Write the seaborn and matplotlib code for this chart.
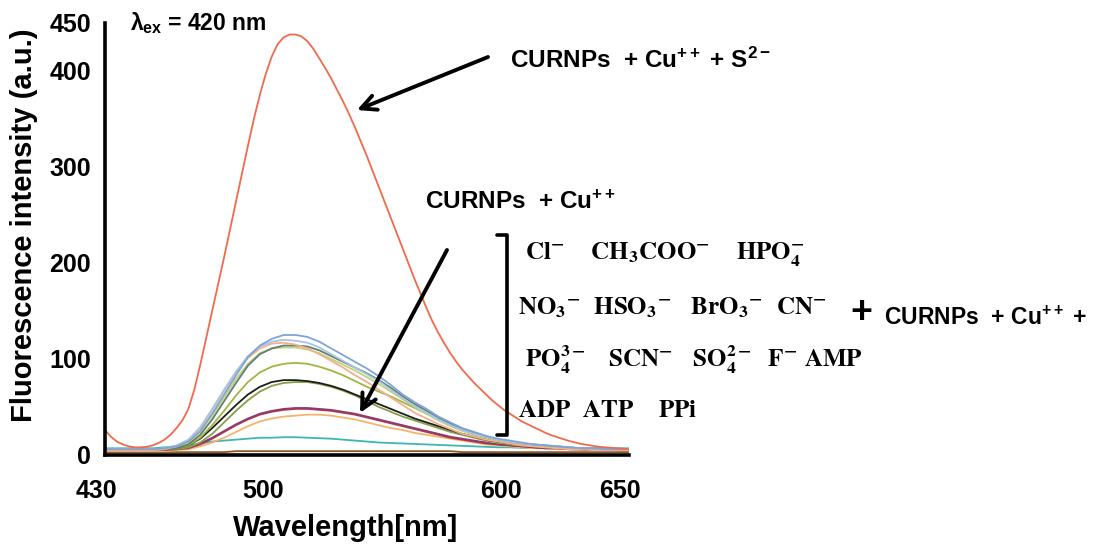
import matplotlib
matplotlib.use("Agg")
import matplotlib.pyplot as plt
import matplotlib.transforms as mtransforms
from matplotlib.lines import Line2D
import pandas as pd
import seaborn as sns

# ---------------- data ----------------
wavelengths = list(range(430, 651, 5))
red_wavelengths = [430 + 2.5 * i for i in range(89)]

s_red = [26, 19, 14, 11, 9, 8, 8, 8.5, 10, 12.5, 16, 21, 28, 36, 48, 68,
         94, 122, 150, 178, 206, 235, 264, 293, 322, 350, 375, 397, 415, 428, 435, 438,
         438, 436, 431, 423, 413, 403, 392, 380, 368, 355, 341, 326, 311, 295, 279, 263,
         247, 231, 215, 199, 183, 168, 153, 139, 127, 116, 106, 97, 89, 82, 75, 69,
         63, 57, 52, 47, 43, 39, 35, 32, 29, 26, 23, 20.5, 18.5, 16.5, 14.5, 13,
         11.5, 10.5, 9.5, 8.5, 8, 7.5, 7, 6.5, 6]
s_blue = [6, 6, 6, 6, 6, 7, 9, 14, 25, 43, 63, 83, 102, 114, 121, 125, 125, 123, 118, 111,
          104, 97, 90, 82, 73, 63, 55, 48, 40, 34, 28, 24, 20, 17, 15, 13, 11, 10, 9, 8, 7,
          7, 6, 6, 6]
s_paleblue = [6, 6, 6, 6, 6, 7, 10, 16, 29, 48, 68, 87, 103, 113, 118, 120, 119, 117, 112,
              105, 98, 91, 84, 77, 68, 59, 51, 44, 37, 31, 26, 22, 19, 16, 14, 12, 11, 10, 9,
              8, 7, 7, 6, 6, 6]
s_peach = [5, 5, 5, 5, 5, 6, 9, 15, 28, 47, 67, 86, 101, 111, 116, 117, 115, 111, 105, 98,
           91, 83, 76, 68, 60, 52, 44, 38, 32, 27, 22, 19, 16, 14, 12, 10, 9, 8, 7, 6, 6, 5,
           5, 5, 5]
s_graygreen = [6, 6, 6, 6, 6, 6, 7, 11, 21, 37, 56, 75, 93, 105, 111, 114, 114, 113, 109,
               103, 97, 91, 85, 78, 70, 61, 53, 46, 39, 33, 27, 23, 19, 16, 14, 12, 11, 10,
               9, 8, 7, 7, 6, 6, 6]
s_yellowgreen = [6, 6, 6, 6, 6, 6, 8, 13, 24, 41, 60, 79, 95, 106, 111, 112, 112, 110, 106,
                 100, 94, 88, 81, 74, 66, 58, 50, 43, 36, 30, 25, 21, 18, 15, 13, 11, 10, 9,
                 8, 7, 7, 6, 6, 6, 5]
s_olive = [6, 6, 6, 6, 6, 6, 7, 10, 18, 31, 46, 62, 76, 86, 92, 95, 96, 95, 92, 88, 83, 77,
           71, 66, 61, 55, 49, 43, 37, 32, 27, 23, 19, 16, 14, 12, 10, 9, 8, 7, 7, 6, 6, 6, 5]
s_black = [6, 6, 6, 6, 6, 6, 7, 10, 17, 28, 40, 52, 63, 71, 76, 78, 78, 77, 75, 72, 68, 63,
           58, 53, 48, 43, 38, 34, 30, 26, 22, 19, 16, 14, 12, 11, 10, 9, 8, 7, 7, 6, 6, 5, 5]
s_green = [6, 6, 6, 6, 6, 6, 6, 8, 13, 22, 34, 46, 57, 66, 72, 75, 76, 76, 74, 71, 67, 62,
           56, 50, 45, 40, 36, 32, 28, 24, 21, 18, 15, 13, 11, 10, 9, 8, 8, 7, 7, 6, 6, 5, 5]
s_maroon = [6, 6, 6, 6, 6, 6, 6, 8, 12, 18, 25, 32, 38, 43, 46, 48, 49, 49, 48, 47, 45, 43,
            40, 37, 34, 31, 28, 25, 22, 19, 17, 15, 13, 11, 10, 9, 8, 7, 7, 6, 6, 5, 5, 5, 5]
s_darkred = [5, 5, 5, 5, 5, 5, 6, 7, 11, 17, 24, 31, 37, 42, 45, 47, 48, 48, 47, 46, 44, 42,
             39, 36, 33, 30, 27, 24, 21, 18, 16, 14, 12, 11, 10, 9, 8, 7, 7, 6, 6, 5, 5, 5, 5]
s_lightorange = [4, 4, 4, 4, 4, 4, 5, 6, 9, 13, 18, 24, 30, 35, 38, 40, 41, 42, 42, 41, 39,
                 37, 34, 31, 28, 26, 23, 21, 19, 17, 15, 13, 11, 10, 9, 8, 7, 7, 6, 6, 5, 5,
                 5, 5, 5]
s_teal = [7, 7, 7, 7, 7, 8, 9, 10, 12, 14, 15, 16, 17, 18, 18, 18.5, 18.5, 18, 17.5, 17, 16,
          15, 14, 13, 12.5, 12, 11.5, 11, 10.5, 10, 9.5, 9, 8.5, 8, 8, 7.5, 7.5, 7, 7, 7, 7,
          7, 7, 7, 7]
s_base = [3] * 11 + [4] * 19 + [3] * 15

series = {
    "base": s_base, "teal": s_teal, "lightorange": s_lightorange, "darkred": s_darkred,
    "maroon": s_maroon, "green": s_green, "black": s_black, "olive": s_olive,
    "yellowgreen": s_yellowgreen, "graygreen": s_graygreen, "peach": s_peach,
    "paleblue": s_paleblue, "blue": s_blue, "red": s_red,
}
colors = {
    "base": "#8B5A2B", "teal": "#3CB7B0", "lightorange": "#F5B36E", "darkred": "#B23A48",
    "maroon": "#8C3B70", "green": "#86A048", "black": "#1E1E1E", "olive": "#A3B443",
    "yellowgreen": "#C2D27A", "graygreen": "#5E8070", "peach": "#F4B08A",
    "paleblue": "#A9C4E4", "blue": "#7FA5D6", "red": "#F06A4C",
}

# ---------------- style ----------------
sns.set_theme(style="white")
plt.rcParams['font.family'] = ['Liberation Sans', 'DejaVu Sans']
plt.rcParams['font.weight'] = 'bold'
plt.rcParams['text.color'] = 'black'
plt.rcParams['axes.labelcolor'] = 'black'
plt.rcParams['xtick.color'] = 'black'
plt.rcParams['ytick.color'] = 'black'
plt.rcParams['mathtext.fontset'] = 'custom'
plt.rcParams['mathtext.rm'] = 'Liberation Sans:bold'
plt.rcParams['mathtext.it'] = 'Liberation Sans:bold'
plt.rcParams['mathtext.bf'] = 'Liberation Sans:bold'

W, H = 1093, 546
fig = plt.figure(figsize=(W / 100, H / 100), dpi=100)
ax = fig.add_axes([105 / W, 91 / H, 524 / W, 432 / H])

rows = []
for name, vals in series.items():
    xs = red_wavelengths if name == "red" else wavelengths
    for wl, v in zip(xs, vals):
        rows.append({"wl": wl, "I": v, "sample": name})
df = pd.DataFrame(rows)

sns.lineplot(data=df, x="wl", y="I", hue="sample", hue_order=list(series.keys()),
             palette=colors, legend=False, lw=1.3, ax=ax, estimator=None)

ax.set_xlim(430, 650)
ax.set_ylim(0, 450)
ax.set_xlabel("")
ax.set_ylabel("")
for sp in ["top", "right"]:
    ax.spines[sp].set_visible(False)
for sp in ["left", "bottom"]:
    ax.spines[sp].set_linewidth(2.6)
    ax.spines[sp].set_color("black")

ax.set_xticks([430, 500, 600, 650])
ax.set_xticklabels(["430", "500", "600", "650"])
ax.set_xticks([450, 550], minor=True)
ax.set_yticks([0, 100, 200, 300, 400, 450])
ax.set_yticklabels(["0", "100", "200", "300", "400", "450"])
ax.set_yticks([50, 150, 250, 350], minor=True)

ax.tick_params(axis="both", which="both", direction="in", color="black", width=2,
               labelcolor="black")
ax.tick_params(axis="x", which="major", length=17, pad=17, labelsize=18)
ax.tick_params(axis="x", which="minor", length=9)
ax.tick_params(axis="y", which="major", length=12, pad=10, labelsize=18)
ax.tick_params(axis="y", which="minor", length=8)
for lbl in ax.get_xticklabels() + ax.get_yticklabels():
    lbl.set_fontweight("bold")
ax.xaxis.get_major_ticks()[0].tick1line.set_visible(False)
offset = mtransforms.ScaledTranslation(-0.09, 0, fig.dpi_scale_trans)
for t in ax.xaxis.get_major_ticks():
    t.label1.set_transform(t.label1.get_transform() + offset)


def px(x, y):
    return (x / W, 1 - y / H)


# axis titles
fig.text(*px(24, 225), "Fluorescence intensity (a.u.)", rotation=90, ha="center",
         va="center", fontsize=21, fontweight="bold")
fig.text(*px(346, 528), "Wavelength[nm]", ha="center", va="center", fontsize=21,
         fontweight="bold")

# annotations
fig.text(*px(130, 23), r"$\lambda_{\mathrm{ex}}$ = 420 nm", ha="left", va="center",
         fontsize=16.5, fontweight="bold")
fig.text(*px(510, 60), r"CURNPs  + Cu$^{++}$ + S$^{2-}$", ha="left", va="center",
         fontsize=17.5, fontweight="bold")
fig.text(*px(425, 202), r"CURNPs  + Cu$^{++}$", ha="left", va="center",
         fontsize=17.5, fontweight="bold")

serif_lines = [
    (525, 255, r"$\mathbf{Cl^{-}\ \ \ \ CH_{3}COO^{-}\ \ \ \ HPO_{4}^{-}}$"),
    (518, 308, r"$\mathbf{NO_{3}{}^{-}\ \ HSO_{3}{}^{-}\ \ \ BrO_{3}{}^{-}\ \ CN^{-}}$"),
    (525, 360, r"$\mathbf{PO_{4}^{3-}\ \ \ SCN^{-}\ \ \ SO_{4}^{2-}\ \ F^{-}\ AMP}$"),
    (518, 410, r"$\mathbf{ADP\ \ ATP\ \ \ \ PPi}$"),
]
for x, y, s in serif_lines:
    fig.text(*px(x, y), s, ha="left", va="center", fontsize=18, math_fontfamily="stix")

fig.text(*px(850, 313), "+", ha="left", va="center", fontsize=27, fontweight="bold")
fig.text(*px(884, 318), r"CURNPs  + Cu$^{++}$ +", ha="left", va="center", fontsize=16.5,
         fontweight="bold")

# bracket
bx = [497, 507, 507, 497]
by = [235, 235, 435, 435]
fig.add_artist(Line2D([b / W for b in bx], [1 - b / H for b in by], color="black", lw=2.6,
                      transform=fig.transFigure))

# arrows
arrow_kw = dict(arrowstyle="->,head_length=0.9,head_width=0.45", lw=2.8, color="black",
                shrinkA=0, shrinkB=0)
ax.annotate("", xy=px(357, 110), xycoords="figure fraction", xytext=px(488, 57),
            textcoords="figure fraction", arrowprops=arrow_kw, annotation_clip=False)
ax.annotate("", xy=px(360, 413), xycoords="figure fraction", xytext=px(447, 250),
            textcoords="figure fraction", arrowprops=arrow_kw, annotation_clip=False)

fig.savefig("out.png", dpi=100)
